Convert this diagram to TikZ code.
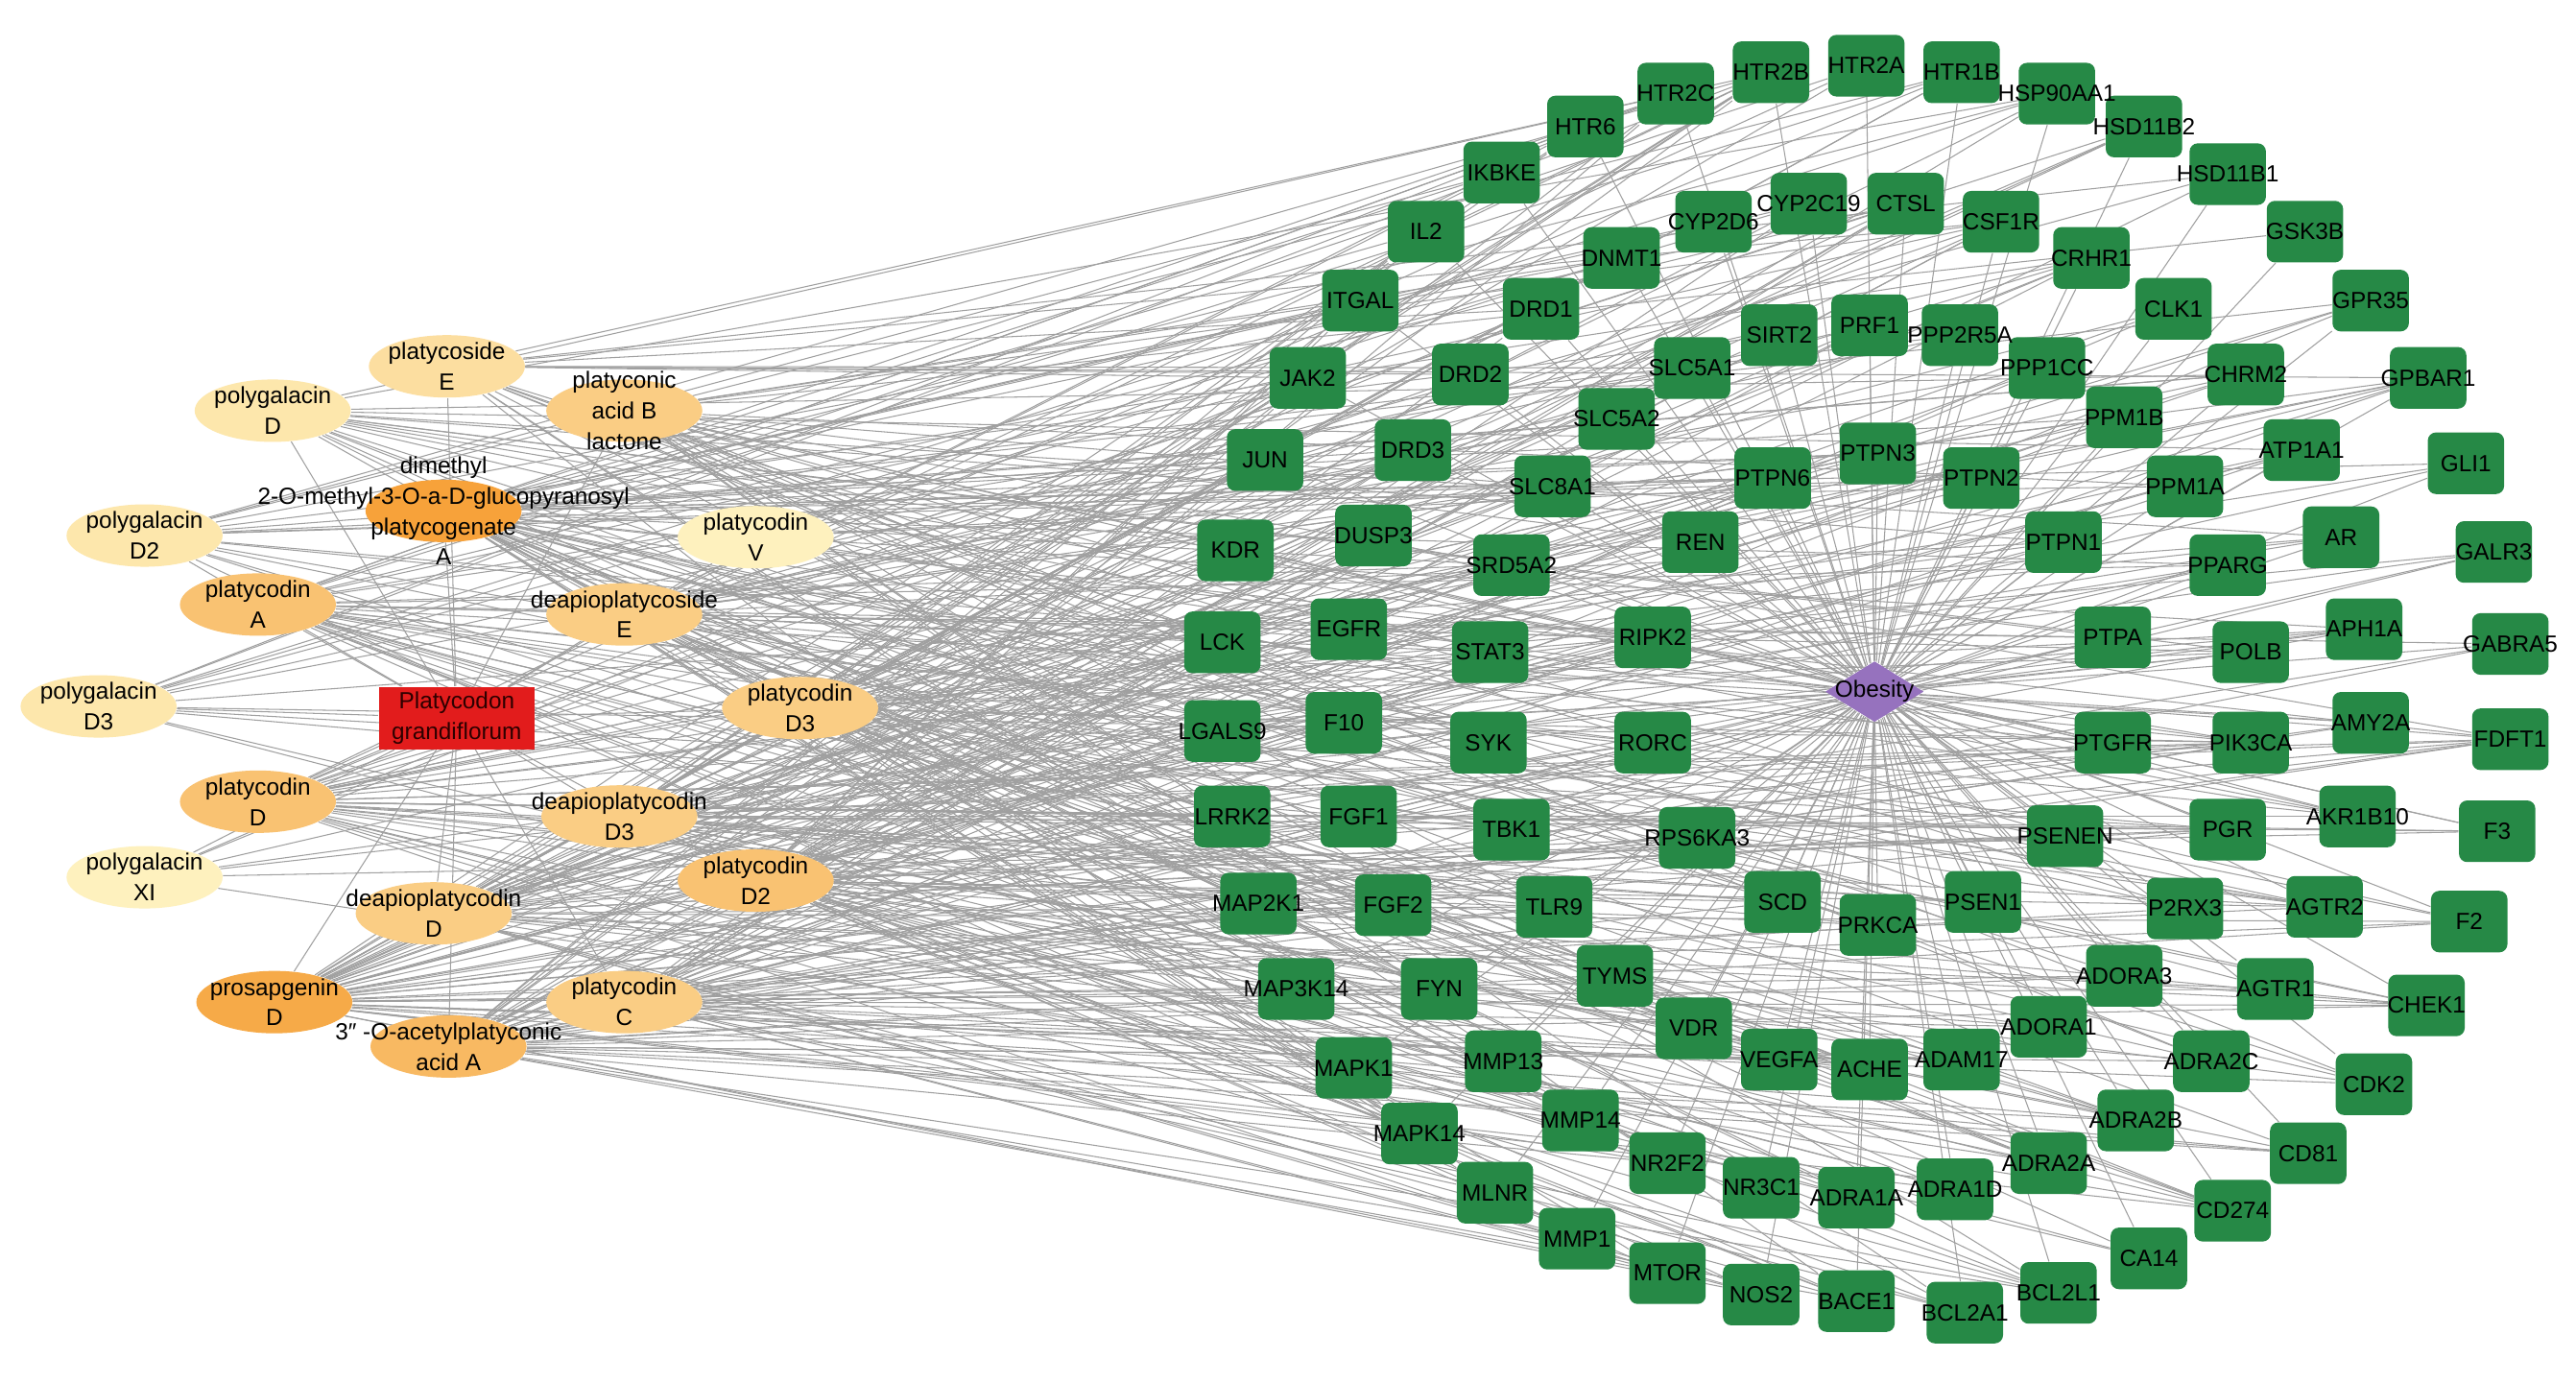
\documentclass[tikz,border=0pt]{standalone}
\usepackage{fontspec}
\setmainfont{Liberation Sans}
\usetikzlibrary{shapes.geometric,backgrounds}

\definecolor{tgreen}{RGB}{38,137,70}
\definecolor{hred}{RGB}{226,28,28}
\definecolor{obviolet}{RGB}{150,114,190}
\definecolor{lgray}{RGB}{160,160,160}
\definecolor{cmpA}{RGB}{254,241,190}
\definecolor{cmpB}{RGB}{253,231,172}
\definecolor{cmpC}{RGB}{252,222,160}
\definecolor{cmpD}{RGB}{250,205,132}
\definecolor{cmpE}{RGB}{249,194,114}
\definecolor{cmpF}{RGB}{248,185,98}
\definecolor{cmpG}{RGB}{246,170,72}
\definecolor{cmpH}{RGB}{247,162,58}

% targets: name/x/y
\def\targetlist{HTR2A/1136/40, HTR2B/1078/44, HTR1B/1194/44, HTR2C/1020/57,
  HSP90AA1/1252/57, HTR6/965/77, HSD11B2/1305/77, IKBKE/914/105,
  HSD11B1/1356/106, IL2/868/141, CYP2D6/1043/135, CYP2C19/1101/124,
  CTSL/1160/124, CSF1R/1218/135, GSK3B/1403/141, DNMT1/987/157,
  CRHR1/1273/157, ITGAL/828/183, DRD1/938/188, CLK1/1323/188, GPR35/1443/183,
  SIRT2/1083/204, PRF1/1138/198, PPP2R5A/1193/204, SLC5A1/1030/224,
  PPP1CC/1246/224, JAK2/796/230, DRD2/895/228, CHRM2/1367/228,
  GPBAR1/1478/230, SLC5A2/984/255, PPM1B/1293/254, JUN/770/280, DRD3/860/274,
  PTPN3/1143/276, ATP1A1/1401/274, GLI1/1501/282, SLC8A1/945/296,
  PTPN6/1079/291, PTPN2/1206/291, PPM1A/1330/296, KDR/752/335, DUSP3/836/326,
  SRD5A2/920/344, REN/1035/330, PTPN1/1256/330, AR/1425/327, GALR3/1518/336,
  PPARG/1356/344, LCK/744/391, EGFR/821/383, STAT3/907/397, RIPK2/1006/388,
  PTPA/1286/388, POLB/1370/397, APH1A/1439/383, GABRA5/1528/392,
  LGALS9/744/445, F10/818/440, SYK/906/452, RORC/1006/452, PTGFR/1286/452,
  PIK3CA/1370/452, AMY2A/1443/440, FDFT1/1528/450, LRRK2/750/497,
  FGF1/827/497, TBK1/920/505, RPS6KA3/1033/510, PSENEN/1257/509,
  PGR/1356/505, AKR1B10/1435/497, F3/1520/506, MAP2K1/766/550, FGF2/848/551,
  TLR9/946/552, SCD/1085/549, PRKCA/1143/563, PSEN1/1207/549, P2RX3/1330/553,
  AGTR2/1415/552, F2/1503/561, MAP3K14/789/602, FYN/876/602, TYMS/983/594,
  ADORA3/1293/594, AGTR1/1385/602, CHEK1/1477/612, VDR/1031/626,
  ADORA1/1247/625, MAPK1/824/650, MMP13/915/646, VEGFA/1083/645,
  ACHE/1138/651, ADAM17/1194/645, ADRA2C/1346/646, CDK2/1445/660,
  MMP14/962/682, ADRA2B/1300/682, MAPK14/864/690, CD81/1405/702,
  NR2F2/1015/708, ADRA2A/1247/708, NR3C1/1072/723, ADRA1A/1130/729,
  ADRA1D/1190/724, MLNR/910/726, CD274/1359/737, MMP1/960/754, CA14/1308/766,
  MTOR/1015/775, NOS2/1072/788, BACE1/1130/792, BCL2A1/1196/799,
  BCL2L1/1253/787}
% compounds: name/share of targets linked
\def\compoundlist{PCE/0.16, PGD/0.13, PABL/0.24, DMPA/0.46, PGD2/0.13,
  PCV/0.07, PCA/0.33, DPCE/0.26, PGD3/0.13, PCD3/0.29, PCD/0.33, DPCD3/0.26,
  PGXI/0.08, PCD2/0.34, DPCD/0.29, PSD/0.44, PCC/0.26, OAPA/0.37}

\begin{document}
\begin{tikzpicture}[x=0.02cm, y=-0.02cm,
        T node/.style={rectangle, rounded corners=0.1cm, fill=tgreen,
            minimum width=0.93cm, minimum height=0.75cm, inner sep=0pt},
        T text/.style={font=\fontsize{8.1}{10}\selectfont, inner sep=0pt},
        C node/.style={ellipse, minimum width=1.9cm, minimum height=0.76cm,
            inner sep=0pt},
        C text/.style={font=\fontsize{8.1}{10.6}\selectfont, align=center,
            inner sep=0pt},
        H node/.style={rectangle, fill=hred, minimum width=1.9cm,
            minimum height=0.76cm, inner sep=0pt, align=center,
            text={rgb,255:red,45;green,0;blue,0},
            font=\fontsize{8.1}{10.6}\selectfont},
        O node/.style={diamond, fill=obviolet, minimum width=1.2cm,
            minimum height=0.74cm, inner sep=0pt},
        link/.style={draw=lgray, line width=0.35pt}]

    \useasboundingbox (0,0) rectangle (1568,841);

    % targets
    \foreach \tname/\tx/\ty in \targetlist
        \node[T node] (\tname) at (\tx,\ty) {};
    \foreach \tname/\tx/\ty in \targetlist
        \node[T text] (\tname-t) at (\tx,\ty) {\tname};

    \node[O node, label={[T text]center:Obesity}] (OB) at (1141,421) {};

    % compounds
    \node[C node, fill=cmpC, label={[C text]center:{platycoside\\E}}] (PCE) at (272,223) {};
    \node[C node, fill=cmpB, label={[C text]center:{polygalacin\\D}}] (PGD) at (166,250) {};
    \node[C node, fill=cmpD, label={[C text]center:{platyconic\\acid B\\lactone}}] (PABL) at (380,250) {};
    \node[C node, fill=cmpH, label={[C text]center:{dimethyl\\2-O-methyl-3-O-a-D-glucopyranosyl\\platycogenate\\A}}] (DMPA) at (270,311) {};
    \node[C node, fill=cmpB, label={[C text]center:{polygalacin\\D2}}] (PGD2) at (88,326) {};
    \node[C node, fill=cmpA, label={[C text]center:{platycodin\\V}}] (PCV) at (460,327) {};
    \node[C node, fill=cmpE, label={[C text]center:{platycodin\\A}}] (PCA) at (157,368) {};
    \node[C node, fill=cmpD, label={[C text]center:{deapioplatycoside\\E}}] (DPCE) at (380,374) {};
    \node[C node, fill=cmpB, label={[C text]center:{polygalacin\\D3}}] (PGD3) at (60,430) {};
    \node[C node, fill=cmpD, label={[C text]center:{platycodin\\D3}}] (PCD3) at (487,431) {};
    \node[C node, fill=cmpE, label={[C text]center:{platycodin\\D}}] (PCD) at (157,488) {};
    \node[C node, fill=cmpD, label={[C text]center:{deapioplatycodin\\D3}}] (DPCD3) at (377,497) {};
    \node[C node, fill=cmpA, label={[C text]center:{polygalacin\\XI}}] (PGXI) at (88,534) {};
    \node[C node, fill=cmpE, label={[C text]center:{platycodin\\D2}}] (PCD2) at (460,536) {};
    \node[C node, fill=cmpD, label={[C text]center:{deapioplatycodin\\D}}] (DPCD) at (264,556) {};
    \node[C node, fill=cmpG, label={[C text]center:{prosapgenin\\D}}] (PSD) at (167,610) {};
    \node[C node, fill=cmpD, label={[C text]center:{platycodin\\C}}] (PCC) at (380,610) {};
    \node[C node, fill=cmpF, label={[C text]center:{3″ -O-acetylplatyconic\\acid A}}] (OAPA) at (273,637) {};

    \node[H node] (PG) at (278,437) {Platycodon\\grandiflorum};

    \begin{pgfonlayer}{background}
        \fill[white] (0,0) rectangle (1568,841);
        \pgfmathsetseed{4711}
        \foreach \cmp/\w in \compoundlist {
            \foreach \tname/\tx/\ty in \targetlist {
                \pgfmathsetmacro\rv{rnd}
                \ifdim\rv pt<\w pt \draw[link] (\cmp) -- (\tname); \fi
            }
        }
        \foreach \tname/\tx/\ty in \targetlist
            \draw[link] (OB) -- (\tname);
        \foreach \cmp/\w in \compoundlist
            \draw[link] (PG) -- (\cmp);
    \end{pgfonlayer}
\end{tikzpicture}
\end{document}
